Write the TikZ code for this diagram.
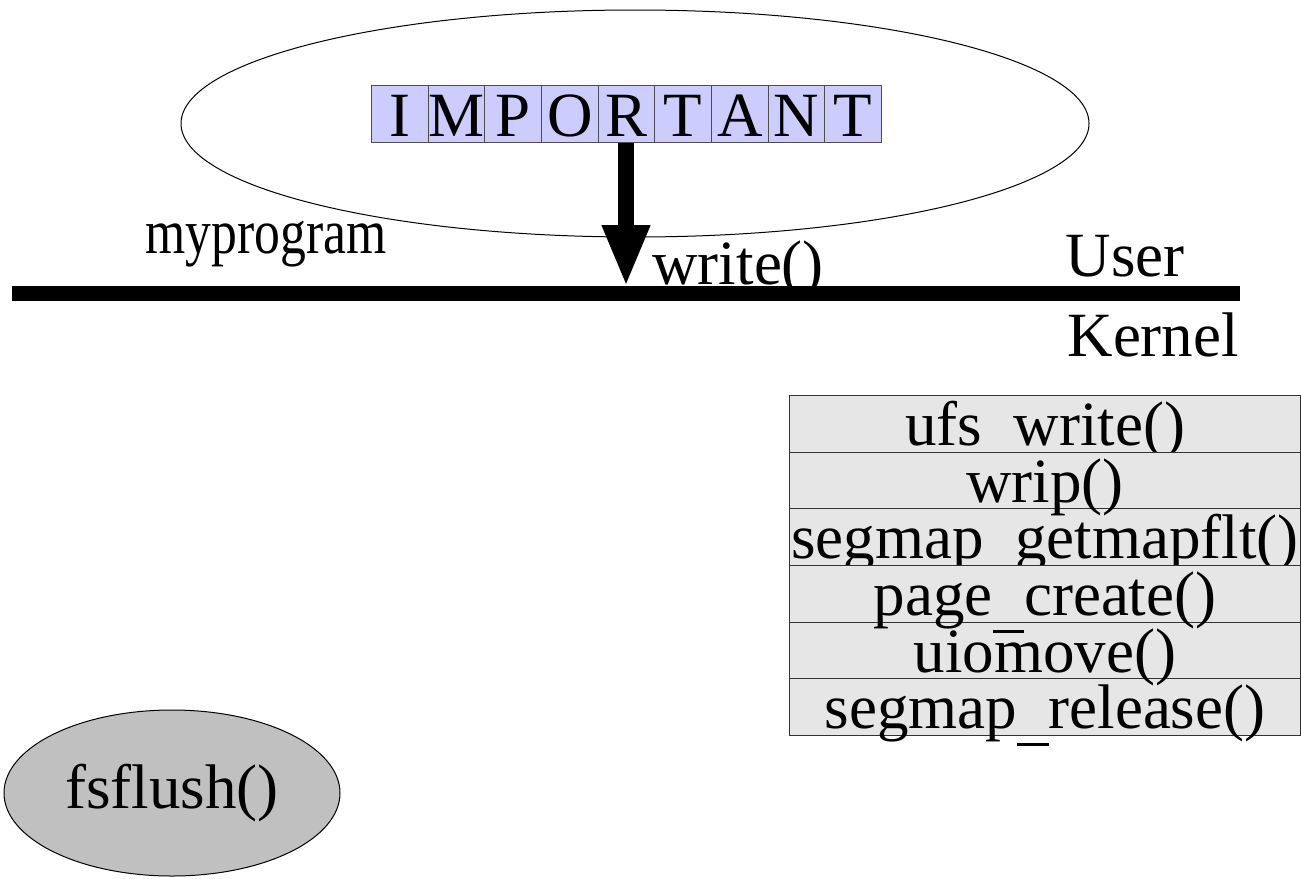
\documentclass[tikz,border=0pt]{standalone}
\usepackage{fontspec}
\usepackage{graphicx}
\setmainfont{Liberation Serif}
\usetikzlibrary{arrows.meta,shapes.geometric}
\definecolor{letterfill}{HTML}{CCCCFF}
\definecolor{stackfill}{HTML}{E6E6E6}
\definecolor{flushfill}{HTML}{C0C0C0}
\newcommand{\bigfont}{\fontsize{47.25pt}{50pt}\selectfont}
\newcommand{\us}{\rule[-0.27em]{0.5em}{0.05em}}
\begin{document}
\begin{tikzpicture}[x=0.75pt,y=-0.75pt,
  letterbox/.style={draw=black!70, fill=letterfill, minimum width=42.5pt, inner sep=0pt,
    text height=38.25pt, text depth=4.5pt, anchor=north west, font=\bigfont},
  rowbox/.style={draw=black!80, fill=stackfill, minimum width=383.25pt, minimum height=42.5pt,
    inner sep=0pt, anchor=north west},
  rowtext/.style={anchor=base, inner sep=0pt, font=\bigfont},
  label/.style={anchor=base west, inner sep=0pt, font=\bigfont},
  line width=0.75pt]
\useasboundingbox (0,0) rectangle (1301,878);
% program ellipse
\node[ellipse, draw, inner sep=0pt, minimum width=681pt, minimum height=170.25pt] (prog) at (635,123.5) {};
% IMPORTANT letters
\node[letterbox] (l1) at (371,85) {I};
\node[letterbox] (l2) at (427.67,85) {M};
\node[letterbox] (l3) at (484.33,85) {P};
\node[letterbox] (l4) at (541,85) {O};
\node[letterbox] (l5) at (597.67,85) {R};
\node[letterbox] (l6) at (654.33,85) {T};
\node[letterbox] (l7) at (711,85) {A};
\node[letterbox] (l8) at (767.67,85) {N};
\node[letterbox] (l9) at (824.33,85) {T};
% boundary line
\coordinate (bl) at (12,293.4);
\coordinate (br) at (1240,293.4);
\draw[line width=11.25pt] (bl) -- (br);
% arrow
\coordinate (tip) at (626,287);
\draw[line width=12pt, -{Triangle[length=46.5pt,width=33pt]}] (l5.south -| tip) -- (tip);
% labels
\node[label] (myprog) at (145,253) {\scalebox{0.82}[1]{myprogram}};
\node[label] (write) at (652,284) {write()};
\node[label] (user) at (1065,276) {User};
\node[label] (kernel) at (1067,356) {Kernel};
% kernel stack
\node[rowbox] (r1) at (789,395) {};
\node[rowtext] (t1) at ([yshift=5.25pt]r1.south) {ufs\us write()};
\node[rowbox] (r2) at (789,451.7) {};
\node[rowbox] (r3) at (789,508.3) {};
\node[rowtext] (t2) at ([yshift=5.25pt]r2.south) {wrip()};
\node[rowtext] (t3) at ([yshift=5.25pt]r3.south) {segmap\us getmapflt()};
\node[rowbox] (r4) at (789,565) {};
\node[rowbox] (r5) at (789,621.7) {};
\node[rowbox] (r6) at (789,678.3) {};
\node[rowtext] (t4) at ([yshift=5.25pt]r4.south) {page\us create()};
\node[rowtext] (t5) at ([yshift=5.25pt]r5.south) {uiomove()};
\node[rowtext] (t6) at ([yshift=5.25pt]r6.south) {segmap\us release()};
% fsflush
\node[ellipse, draw, fill=flushfill, inner sep=0pt, minimum width=252pt, minimum height=124.5pt] (fs) at (172,793) {};
\node[anchor=base, inner sep=0pt, font=\bigfont] (fst) at ([yshift=-11.25pt]fs.center) {fsflush()};
\end{tikzpicture}
\end{document}
